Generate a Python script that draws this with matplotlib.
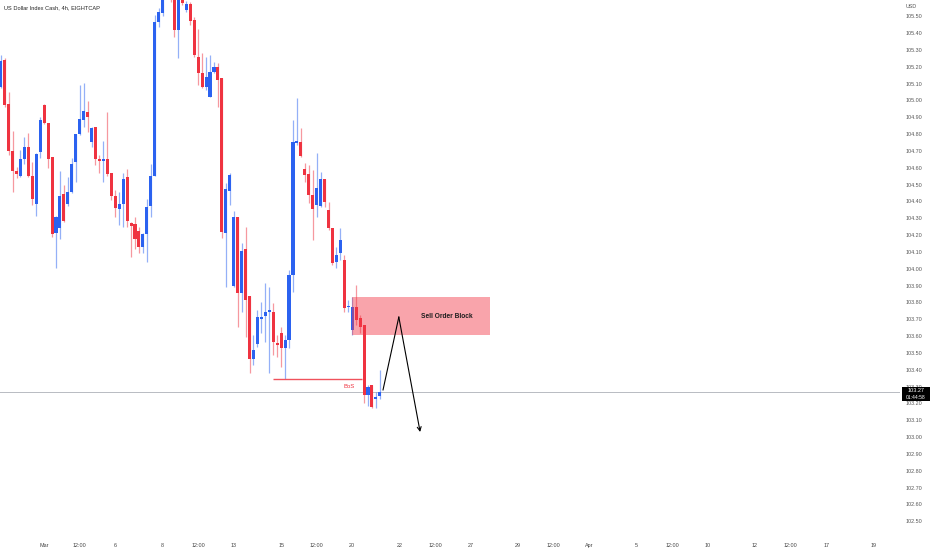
import matplotlib
matplotlib.use("Agg")
import matplotlib.pyplot as plt
from matplotlib.patches import Rectangle
import numpy as np

# US Dollar Index Cash, 4h candles (index 0 = first visible candle)
opens = [105.082, 105.240, 104.979, 104.702, 104.581, 104.553, 104.652, 104.722, 104.553, 104.383,
         104.692, 104.973, 104.864, 104.662, 104.214, 104.244, 104.444, 104.383, 104.454, 104.633,
         104.801, 104.884, 104.933, 104.751, 104.842, 104.652, 104.640, 104.650, 104.567, 104.432,
         104.353, 104.385, 104.544, 104.274, 104.264, 104.224, 104.131, 104.205, 104.373, 104.551,
         105.468, 105.518, 105.620, 105.720, 105.680, 105.419, 105.597, 105.538, 105.571, 105.478,
         105.260, 105.161, 105.082, 105.022, 105.171, 105.201, 105.132, 104.214, 104.464, 103.898,
         104.306, 103.854, 104.116, 103.838, 103.462, 103.553, 103.700, 103.719, 103.745, 103.745,
         103.557, 103.620, 103.527, 103.577, 103.963, 104.749, 104.755, 104.593, 104.563, 104.438,
         104.379, 104.373, 104.532, 104.349, 104.244, 104.042, 104.092, 104.052, 103.770, 103.636,
         103.775, 103.706, 103.666, 103.250, 103.309, 103.226, 103.244]
highs = [105.270, 105.252, 105.052, 104.820, 104.606, 104.706, 104.781, 104.808, 104.633, 104.685,
         104.900, 104.979, 104.864, 104.664, 104.314, 104.583, 104.498, 104.547, 104.656, 104.801,
         105.092, 105.102, 104.997, 104.844, 104.842, 104.676, 104.759, 104.930, 104.569, 104.468,
         104.458, 104.567, 104.591, 104.280, 104.309, 104.250, 104.211, 104.413, 104.622, 105.508,
         105.548, 105.660, 105.760, 105.750, 105.700, 105.660, 105.620, 105.590, 105.587, 105.498,
         105.423, 105.280, 105.260, 105.270, 105.230, 105.221, 105.132, 104.508, 104.567, 104.345,
         104.306, 104.151, 104.250, 103.838, 103.606, 103.755, 103.804, 103.914, 103.893, 103.795,
         103.606, 103.652, 103.606, 103.993, 104.884, 105.013, 104.835, 104.627, 104.617, 104.587,
         104.686, 104.577, 104.532, 104.399, 104.244, 104.131, 104.240, 104.082, 103.814, 103.834,
         103.904, 103.725, 103.666, 103.309, 103.309, 103.270, 103.398]
lows = [105.074, 104.961, 104.676, 104.458, 104.539, 104.547, 104.622, 104.547, 104.379, 104.315,
        104.656, 104.860, 104.597, 104.190, 104.006, 104.175, 104.280, 104.375, 104.448, 104.517,
        104.795, 104.844, 104.814, 104.725, 104.617, 104.569, 104.517, 104.551, 104.409, 104.309,
        104.260, 104.250, 104.250, 104.072, 104.116, 104.092, 104.092, 104.042, 104.309, 104.551,
        105.438, 105.500, 105.600, 105.585, 105.377, 105.252, 105.567, 105.526, 105.448, 105.260,
        105.092, 105.072, 105.062, 105.022, 105.161, 104.963, 104.181, 103.893, 104.379, 103.893,
        103.656, 103.745, 103.596, 103.379, 103.428, 103.537, 103.616, 103.567, 103.379, 103.488,
        103.477, 103.418, 103.343, 103.527, 103.864, 104.735, 104.666, 104.517, 104.389, 104.171,
        104.309, 104.369, 104.369, 104.230, 104.022, 104.003, 104.052, 103.743, 103.743, 103.606,
        103.666, 103.618, 103.202, 103.185, 103.173, 103.171, 103.226]
closes = [105.236, 104.973, 104.702, 104.583, 104.563, 104.652, 104.722, 104.553, 104.413, 104.682,
          104.884, 104.864, 104.652, 104.205, 104.309, 104.434, 104.284, 104.454, 104.622, 104.801,
          104.890, 104.939, 104.900, 104.835, 104.650, 104.640, 104.650, 104.563, 104.432, 104.363,
          104.385, 104.532, 104.286, 104.254, 104.175, 104.131, 104.205, 104.365, 104.551, 105.468,
          105.527, 105.620, 105.720, 105.660, 105.419, 105.630, 105.577, 105.571, 105.474, 105.270,
          105.161, 105.082, 105.138, 105.171, 105.201, 105.122, 104.220, 104.472, 104.557, 104.306,
          103.854, 104.107, 103.814, 103.462, 103.517, 103.715, 103.715, 103.745, 103.755, 103.567,
          103.545, 103.527, 103.577, 103.963, 104.755, 104.761, 104.670, 104.557, 104.438, 104.353,
          104.478, 104.532, 104.399, 104.244, 104.032, 104.082, 104.171, 103.765, 103.779, 103.775,
          103.696, 103.656, 103.250, 103.299, 103.180, 103.238, 103.270]

# time axis (candle index -> label)
tick_idx = [11, 20, 29, 41, 50, 59, 71, 80, 89, 101, 110, 119, 131, 140, 149, 161, 170, 179, 191, 200, 209, 221]
tick_lbl = ["Mar", "12:00", "6", "8", "12:00", "13", "15", "12:00", "20", "22", "12:00", "27",
            "29", "12:00", "Apr", "5", "12:00", "10", "12", "12:00", "17", "19"]

last_price = 103.27
countdown = "01:44:58"

# drawings
bos_level = 103.345
bos_span = [68.9, 91.5]
block_x = [88.9, 124.0]
block_y = [103.606, 103.834]
path_x = [96.8, 100.8, 106.2]
path_y = [103.280, 103.713, 103.030]

plt.rcParams['font.family'] = ['Liberation Sans', 'DejaVu Sans']

RED = "#ef3340"
BLUE = "#2b62f0"

fig = plt.figure(figsize=(9.32, 5.5), dpi=100)
ax = fig.add_axes([0, 14 / 550, 900 / 932, 536 / 550])

idx = np.arange(len(opens))
o = np.array(opens)
c = np.array(closes)
up = c >= o
cols = np.where(up, BLUE, RED)

# wicks then bodies
ax.vlines(idx, lows, highs, colors=cols, linewidth=0.9, alpha=0.5, zorder=2)
body_h = np.maximum(np.abs(c - o), 0.007)
ax.bar(idx, body_h, bottom=np.minimum(o, c), width=0.78, color=cols, linewidth=0, zorder=3)

# current price line
ax.axhline(last_price, color="#b8bbc2", linewidth=0.7, zorder=1)

# break of structure
ax.hlines(bos_level, bos_span[0], bos_span[1], color="#f0525c", linewidth=1.0, zorder=4)
ax.text(88.2, 103.299, "BoS", color="#ef3340", fontsize=4.3, ha="center", va="center", zorder=5)

# sell order block
ax.add_patch(Rectangle((block_x[0], block_y[0]), block_x[1] - block_x[0], block_y[1] - block_y[0],
                       facecolor="#f23645", alpha=0.45, edgecolor="none", zorder=4))
ax.text(112.9, 103.715, "Sell Order Block", fontsize=4.8, fontweight="bold",
        color="#1e1e1e", ha="center", va="center", zorder=5)

# projected path
ax.plot(path_x[:2], path_y[:2], color="black", linewidth=0.8, zorder=6)
ax.annotate("", xy=(path_x[2], path_y[2]), xytext=(path_x[1], path_y[1]),
            arrowprops=dict(arrowstyle="->", color="black", lw=0.8,
                            shrinkA=0, shrinkB=0, mutation_scale=7), zorder=6)

ax.set_xlim(-0.18, 227.7)
ax.set_ylim(102.412, 105.597)

ax.yaxis.tick_right()
yt = np.arange(102.5, 105.55, 0.1)
ax.set_yticks(yt)
ax.set_yticklabels(["%.2f" % v for v in yt])
ax.tick_params(axis="y", length=0, pad=4.3, labelsize=3.9, labelcolor="#555555")
ax.set_xticks(tick_idx)
ax.set_xticklabels(tick_lbl)
ax.tick_params(axis="x", length=0, pad=5.0, labelsize=3.9, labelcolor="#444444")
for s in ax.spines.values():
    s.set_visible(False)

fig.text(4 / 932, 1 - 8 / 550, "US Dollar Index Cash, 4h, EIGHTCAP", fontsize=4.1,
         color="#222222", ha="left", va="center")
fig.text(906 / 932, 1 - 6 / 550, "USD", fontsize=3.9, color="#555555", ha="left", va="center")

# last price tag
fig.add_artist(Rectangle((902 / 932, 1 - 401 / 550), 28 / 932, 14.3 / 550,
                         transform=fig.transFigure, facecolor="black", edgecolor="none", zorder=5))
fig.text(916 / 932, 1 - 390.5 / 550, "%.2f" % last_price, fontsize=4.0, color="white",
         ha="center", va="center", zorder=6)
fig.text(916 / 932, 1 - 397.5 / 550, countdown, fontsize=3.6, color="white",
         ha="center", va="center", zorder=6)

fig.savefig("out.png", dpi=100, facecolor="white")
